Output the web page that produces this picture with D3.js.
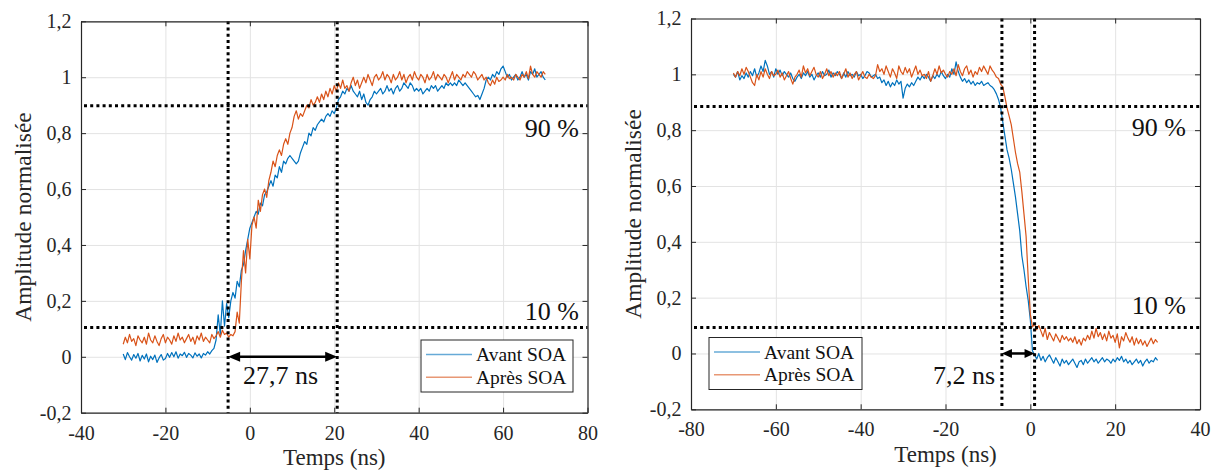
<!DOCTYPE html>
<html>
<head>
<meta charset="utf-8">
<script src="https://cdn.jsdelivr.net/npm/d3@7"></script>
<style>
  html, body { margin: 0; padding: 0; background: #fff; }
  svg { display: block; }
  text { font-family: "Liberation Serif", "Times New Roman", "DejaVu Serif", serif; }
</style>
</head>
<body>
<svg id="chart" width="1215" height="476"></svg>
<script>
// ---------------- DATA ----------------
const seriesNames = ["Avant SOA", "Après SOA"];
const sampleStep = 0.5; // ns between samples
const leftStartTime = -30;
const rightStartTime = -70;

// Left panel (rise) – "Avant SOA"
const leftAvant = [
  0.010, -0.010, 0.015, 0.000, -0.012, 0.008, -0.005, 0.012, -0.015, 0.005,
  -0.008, 0.010, -0.018, 0.002, -0.010, 0.006, -0.020, -0.004, 0.008, -0.012,
  -0.006, 0.012, -0.002, 0.015, 0.000, 0.018, -0.005, 0.010, 0.004, 0.016,
  -0.002, 0.012, 0.006, -0.004, 0.014, 0.002, 0.010, -0.004, 0.012, 0.006,
  0.018, 0.010, 0.022, 0.030, 0.060, 0.150, 0.080, 0.200, 0.110, 0.190,
  0.140, 0.200, 0.230, 0.210, 0.270, 0.250, 0.310, 0.330, 0.380, 0.420,
  0.460, 0.480, 0.500, 0.520, 0.510, 0.550, 0.540, 0.580, 0.590, 0.610,
  0.630, 0.610, 0.650, 0.640, 0.680, 0.660, 0.700, 0.690, 0.710, 0.720,
  0.710, 0.700, 0.690, 0.700, 0.730, 0.750, 0.770, 0.760, 0.800, 0.790,
  0.820, 0.810, 0.830, 0.840, 0.850, 0.840, 0.860, 0.870, 0.860, 0.880,
  0.870, 0.890, 0.920, 0.930, 0.950, 0.940, 0.960, 0.950, 0.970, 0.950,
  0.940, 0.930, 0.950, 0.920, 0.940, 0.910, 0.900, 0.920, 0.930, 0.950,
  0.940, 0.950, 0.960, 0.940, 0.950, 0.970, 0.950, 0.960, 0.940, 0.960,
  0.970, 0.950, 0.960, 0.980, 0.970, 0.960, 0.980, 0.970, 0.950, 0.960,
  0.950, 0.960, 0.940, 0.950, 0.960, 0.950, 0.970, 0.960, 0.970, 0.950,
  0.960, 0.970, 0.960, 0.980, 0.970, 0.980, 0.970, 0.980, 0.970, 0.990,
  0.980, 0.970, 0.980, 0.970, 0.960, 0.950, 0.940, 0.930, 0.935, 0.920,
  0.940, 0.960, 0.990, 1.000, 0.990, 1.010, 1.000, 1.020, 1.010, 1.030,
  1.040, 1.020, 1.000, 1.010, 0.990, 1.000, 1.010, 0.990, 1.000, 1.020,
  1.000, 1.010, 0.990, 1.020, 1.010, 1.030, 1.000, 1.010, 1.020, 1.000,
  0.990
];
// Left panel (rise) – "Après SOA"
const leftApres = [
  0.045, 0.070, 0.050, 0.080, 0.055, 0.065, 0.040, 0.075, 0.060, 0.050,
  0.070, 0.045, 0.085, 0.060, 0.050, 0.075, 0.055, 0.040, 0.065, 0.080,
  0.050, 0.070, 0.060, 0.045, 0.075, 0.055, 0.085, 0.060, 0.070, 0.050,
  0.065, 0.080, 0.055, 0.070, 0.045, 0.075, 0.060, 0.085, 0.055, 0.070,
  0.060, 0.050, 0.080, 0.065, 0.075, 0.090, 0.070, 0.095, 0.080, 0.085,
  0.070, 0.080, 0.075, 0.090, 0.160, 0.120, 0.270, 0.380, 0.300, 0.420,
  0.350, 0.470, 0.500, 0.460, 0.560, 0.520, 0.580, 0.600, 0.570, 0.630,
  0.660, 0.700, 0.680, 0.720, 0.740, 0.720, 0.760, 0.780, 0.760, 0.800,
  0.820, 0.860, 0.880, 0.850, 0.870, 0.860, 0.880, 0.900, 0.890, 0.920,
  0.900, 0.910, 0.930, 0.910, 0.940, 0.920, 0.950, 0.930, 0.960, 0.940,
  0.970, 0.950, 0.980, 0.960, 0.990, 0.960, 0.970, 0.950, 0.980, 1.000,
  0.970, 0.990, 0.960, 0.980, 1.000, 0.980, 1.010, 0.990, 0.970, 1.000,
  1.010, 0.990, 1.000, 1.020, 0.990, 1.010, 1.000, 0.980, 1.010, 0.990,
  1.000, 1.020, 0.990, 1.010, 0.980, 1.000, 1.010, 0.990, 1.020, 1.000,
  0.990, 1.010, 1.000, 0.980, 1.010, 0.990, 1.000, 1.020, 0.990, 1.010,
  1.000, 0.990, 1.010, 1.000, 0.980, 1.000, 1.020, 0.990, 1.010, 1.000,
  0.990, 1.010, 1.000, 1.020, 1.010, 1.000, 1.020, 1.010, 0.990, 1.000,
  1.010, 0.990, 1.000, 0.980, 0.970, 0.990, 0.975, 1.000, 0.985, 0.990,
  1.000, 0.990, 1.010, 0.995, 1.000, 0.990, 1.010, 1.000, 0.990, 1.010,
  1.000, 1.020, 0.995, 1.040, 1.010, 1.000, 1.020, 1.010, 1.000, 1.020,
  1.010
];
// Right panel (fall) – "Avant SOA"
const rightAvant = [
  1.000, 0.990, 1.010, 0.980, 0.995, 0.985, 1.005, 0.990, 1.010, 0.995,
  1.020, 0.990, 1.005, 1.030, 1.010, 1.050, 1.030, 1.000, 1.010, 0.990,
  1.020, 1.000, 1.015, 0.995, 1.010, 1.000, 0.990, 1.005, 0.985, 0.975,
  0.990, 1.000, 0.985, 1.005, 0.995, 1.010, 0.990, 1.000, 0.980, 0.995,
  1.005, 0.990, 1.010, 0.995, 1.000, 1.015, 0.990, 1.005, 0.995, 1.010,
  1.000, 0.985, 1.005, 0.990, 1.010, 0.995, 1.000, 0.990, 1.010, 0.995,
  1.000, 0.985, 0.995, 1.010, 1.005, 0.990, 0.995, 1.000, 0.985, 0.990,
  0.970, 0.980, 0.960, 0.975, 0.955, 0.970, 0.960, 0.980, 0.965, 0.975,
  0.915, 0.950, 0.965, 0.955, 0.970, 0.960, 0.975, 0.990, 0.980, 0.995,
  0.985, 1.000, 0.990, 0.975, 0.995, 0.985, 1.000, 0.990, 1.010, 0.995,
  0.985, 1.000, 0.990, 1.020, 1.000, 1.045, 1.010, 0.990, 0.975, 0.985,
  0.970, 0.980, 0.965, 0.975, 0.960, 0.970, 0.965, 0.975, 0.960, 0.965,
  0.970, 0.960, 0.955, 0.945, 0.930, 0.910, 0.880, 0.830, 0.780, 0.730,
  0.700, 0.660, 0.610, 0.560, 0.500, 0.440, 0.350, 0.300, 0.240, 0.190,
  0.120, 0.010, -0.005, -0.020, 0.000, -0.025, -0.010, -0.030, -0.015, -0.005,
  -0.020, -0.035, -0.015, -0.030, -0.045, -0.020, -0.035, -0.025, -0.040, -0.030,
  -0.020, -0.035, -0.050, -0.030, -0.025, -0.040, -0.020, -0.035, -0.025, -0.015,
  -0.030, -0.020, -0.035, -0.025, -0.015, -0.030, -0.020, -0.025, -0.035, -0.020,
  -0.030, -0.015, -0.025, -0.010, -0.030, -0.020, -0.035, -0.025, -0.040, -0.030,
  -0.020, -0.035, -0.025, -0.045, -0.030, -0.020, -0.035, -0.025, -0.030, -0.015,
  -0.025
];
// Right panel (fall) – "Après SOA"
const rightApres = [
  1.005, 0.990, 1.010, 0.995, 1.020, 1.000, 1.025, 1.010, 0.990, 0.970,
  0.960, 1.000, 0.980, 1.010, 0.990, 1.020, 1.000, 0.985, 1.010, 0.995,
  1.000, 1.015, 0.990, 1.005, 0.980, 0.995, 1.010, 0.985, 0.965, 0.990,
  1.000, 1.015, 0.990, 1.030, 1.005, 1.020, 0.995, 1.010, 1.025, 1.000,
  0.990, 1.010, 0.985, 1.000, 1.020, 0.995, 1.010, 0.990, 1.005, 0.995,
  1.010, 0.985, 1.000, 1.020, 0.990, 1.005, 0.985, 1.000, 1.010, 0.980,
  0.995, 1.010, 0.990, 0.985, 1.000, 0.990, 0.985, 0.995, 1.035, 1.010,
  1.020, 1.000, 1.030, 1.010, 0.990, 1.020, 1.005, 0.985, 1.030, 1.010,
  1.000, 1.025, 1.005, 1.020, 0.990, 1.010, 1.030, 1.000, 1.015, 0.995,
  1.000, 0.985, 1.010, 0.975, 0.995, 1.020, 1.000, 1.030, 1.005, 1.015,
  1.000, 0.990, 1.010, 1.000, 1.020, 0.995, 1.035, 1.010, 0.995, 1.020,
  1.030, 1.000, 1.015, 0.990, 1.010, 1.000, 1.025, 1.010, 1.030, 1.015,
  1.000, 1.030, 1.015, 1.005, 0.990, 0.985, 0.965, 0.955, 0.920, 0.880,
  0.850, 0.820, 0.770, 0.720, 0.680, 0.650, 0.580, 0.500, 0.420, 0.270,
  0.140, 0.095, 0.105, 0.085, 0.100, 0.080, 0.060, 0.090, 0.050, 0.075,
  0.060, 0.045, 0.070, 0.055, 0.040, 0.065, 0.050, 0.060, 0.045, 0.055,
  0.040, 0.060, 0.035, 0.050, 0.030, 0.055, 0.045, 0.065, 0.050, 0.080,
  0.055, 0.090, 0.060, 0.075, 0.050, 0.070, 0.045, 0.080, 0.055, 0.065,
  0.040, 0.070, 0.020, 0.060, 0.045, 0.075, 0.055, 0.040, 0.060, 0.030,
  0.055, 0.035, 0.050, 0.030, 0.045, 0.025, 0.040, 0.055, 0.035, 0.050,
  0.040
];

const yTicks = [-0.2, 0, 0.2, 0.4, 0.6, 0.8, 1.0, 1.2];
const xTicksLeft = [-40, -20, 0, 20, 40, 60, 80];
const xTicksRight = [-80, -60, -40, -20, 0, 20, 40];

const levelsLeft = [0.105, 0.898];     // 10 % and 90 % levels
const levelsRight = [0.093, 0.885];
const markersLeft = [-5.15, 20.7];      // ns
const markersRight = [-6.7, 1.0];
const levelLabels = ["10 %", "90 %"];
const durationLeft = "27,7 ns";
const durationRight = "7,2 ns";
const xTitle = "Temps (ns)";
const yTitle = "Amplitude normalisée";

// ---------------- DRAWING ----------------
const colors = ["#0072BD", "#D95319"];
const axisColor = "#262626";
const gridColor = "#e3e3e3";
const svg = d3.select("#chart");

const fmt = d => String(+(+d).toFixed(1)).replace(".", ",");

function panel(cfg) {
  const g = svg.append("g");
  const x = d3.scaleLinear().domain(cfg.xDomain).range([cfg.left, cfg.right]);
  const y = d3.scaleLinear().domain([-0.2, 1.2]).range([cfg.bottom, cfg.top]);
  const H = cfg.bottom - cfg.top, W = cfg.right - cfg.left;

  // grid
  g.append("g").attr("transform", `translate(0,${cfg.bottom})`)
    .call(d3.axisBottom(x).tickValues(cfg.xTicks).tickSize(-H).tickFormat(""))
    .call(s => { s.select(".domain").remove(); s.selectAll("line").attr("stroke", gridColor).attr("stroke-width", 1); });
  g.append("g").attr("transform", `translate(${cfg.left},0)`)
    .call(d3.axisLeft(y).tickValues(yTicks).tickSize(-W).tickFormat(""))
    .call(s => { s.select(".domain").remove(); s.selectAll("line").attr("stroke", gridColor).attr("stroke-width", 1); });

  // series
  cfg.series.forEach((vals, k) => {
    const line = d3.line()
      .x((d, i) => x(cfg.t0 + i * sampleStep))
      .y(d => y(d));
    g.append("path").datum(vals)
      .attr("fill", "none")
      .attr("stroke", colors[k])
      .attr("stroke-width", 1.2)
      .attr("stroke-linejoin", "round")
      .attr("d", line);
  });

  // dotted reference lines
  const dot = { "stroke": "#000", "stroke-width": 3, "stroke-dasharray": "3,3.2" };
  cfg.levels.forEach(v => {
    const l = g.append("line").attr("x1", cfg.left + 3).attr("x2", cfg.right).attr("y1", y(v)).attr("y2", y(v));
    Object.entries(dot).forEach(([k, val]) => l.attr(k, val));
  });
  cfg.markers.forEach(t => {
    const l = g.append("line").attr("x1", x(t)).attr("x2", x(t)).attr("y1", cfg.top).attr("y2", cfg.bottom);
    Object.entries(dot).forEach(([k, val]) => l.attr(k, val));
  });

  // double arrow at y = 0
  const ax1 = x(cfg.markers[0]), ax2 = x(cfg.markers[1]), ay = y(0);
  const hl = cfg.headLen, hw = cfg.headHalf;
  g.append("line").attr("x1", ax1 + hl - 1).attr("x2", ax2 - hl + 1).attr("y1", ay).attr("y2", ay)
    .attr("stroke", "#000").attr("stroke-width", 2.5);
  g.append("path").attr("d", `M${ax1},${ay} L${ax1 + hl},${ay - hw} L${ax1 + hl},${ay + hw} Z`).attr("fill", "#000");
  g.append("path").attr("d", `M${ax2},${ay} L${ax2 - hl},${ay - hw} L${ax2 - hl},${ay + hw} Z`).attr("fill", "#000");

  // duration label
  g.append("text").attr("x", cfg.durX).attr("y", cfg.durY)
    .attr("text-anchor", cfg.durAnchor).attr("font-size", 26).attr("fill", "#111")
    .text(cfg.duration);

  // level labels
  g.append("text").attr("x", cfg.lvlX).attr("y", cfg.lvl10Y).attr("text-anchor", "end")
    .attr("font-size", 26).attr("fill", "#111").text(levelLabels[0]);
  g.append("text").attr("x", cfg.lvlX).attr("y", cfg.lvl90Y).attr("text-anchor", "end")
    .attr("font-size", 26).attr("fill", "#111").text(levelLabels[1]);

  // axes with labels
  const styleAxis = s => {
    s.attr("font-family", null).attr("font-size", null);
    s.select(".domain").attr("stroke", axisColor).attr("stroke-width", 1.2);
    s.selectAll(".tick line").attr("stroke", axisColor).attr("stroke-width", 1);
    s.selectAll(".tick text").attr("fill", axisColor).attr("font-size", 20)
      .style("font-family", '"Liberation Serif", "Times New Roman", serif');
  };
  g.append("g").attr("transform", `translate(0,${cfg.bottom})`)
    .call(d3.axisBottom(x).tickValues(cfg.xTicks).tickSizeInner(-5).tickSizeOuter(0).tickPadding(13).tickFormat(fmt))
    .call(styleAxis);
  g.append("g").attr("transform", `translate(${cfg.left},0)`)
    .call(d3.axisLeft(y).tickValues(yTicks).tickSizeInner(-5).tickSizeOuter(0).tickPadding(9.5).tickFormat(fmt))
    .call(styleAxis);
  g.append("g").attr("transform", `translate(0,${cfg.top})`)
    .call(d3.axisTop(x).tickValues(cfg.xTicks).tickSizeInner(-5).tickSizeOuter(0).tickFormat(""))
    .call(styleAxis);
  g.append("g").attr("transform", `translate(${cfg.right},0)`)
    .call(d3.axisRight(y).tickValues(yTicks).tickSizeInner(-5).tickSizeOuter(0).tickFormat(""))
    .call(styleAxis);

  // axis titles
  g.append("text").attr("x", (cfg.left + cfg.right) / 2).attr("y", cfg.xTitleY)
    .attr("text-anchor", "middle").attr("font-size", 23).attr("fill", axisColor).text(xTitle);
  g.append("text").attr("transform", `translate(${cfg.yTitleX},${(cfg.top + cfg.bottom) / 2}) rotate(-90)`)
    .attr("text-anchor", "middle").attr("font-size", 23.5).attr("fill", axisColor).text(yTitle);

  // legend
  const L = cfg.legend;
  g.append("rect").attr("x", L.x).attr("y", L.y).attr("width", L.w).attr("height", L.h)
    .attr("fill", "#fff").attr("stroke", axisColor).attr("stroke-width", 1);
  seriesNames.forEach((name, k) => {
    const ly = L.y + 14.5 + k * 22.7;
    g.append("line").attr("x1", L.x + 5).attr("x2", L.x + 51).attr("y1", ly).attr("y2", ly)
      .attr("stroke", colors[k]).attr("stroke-width", 1.6).attr("stroke-opacity", 0.6);
    g.append("text").attr("x", L.x + 55).attr("y", ly + 6.5).attr("font-size", 19.5)
      .attr("fill", "#111").text(name);
  });
}

panel({
  xDomain: [-40, 80], xTicks: xTicksLeft,
  left: 81, right: 587.5, top: 21.3, bottom: 412.7,
  t0: leftStartTime, series: [leftAvant, leftApres],
  levels: levelsLeft, markers: markersLeft,
  headLen: 12, headHalf: 5,
  duration: durationLeft, durX: 243, durY: 384, durAnchor: "start",
  lvlX: 579, lvl10Y: 320, lvl90Y: 137,
  xTitleY: 465, yTitleX: 31,
  legend: { x: 421, y: 340, w: 152, h: 52 }
});

panel({
  xDomain: [-80, 40], xTicks: xTicksRight,
  left: 691, right: 1200, top: 18.5, bottom: 409.3,
  t0: rightStartTime, series: [rightAvant, rightApres],
  levels: levelsRight, markers: markersRight,
  headLen: 10, headHalf: 4.5,
  duration: durationRight, durX: 995, durY: 384, durAnchor: "end",
  lvlX: 1186, lvl10Y: 313.5, lvl90Y: 136,
  xTitleY: 462, yTitleX: 641,
  legend: { x: 709, y: 337.5, w: 153, h: 52 }
});
</script>
</body>
</html>
